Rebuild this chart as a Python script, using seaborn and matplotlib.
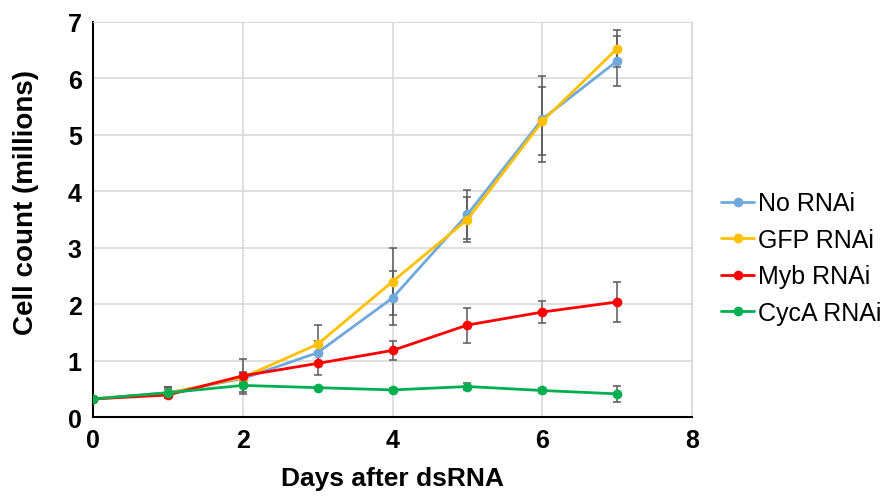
import pandas as pd
import seaborn as sns
import matplotlib.pyplot as plt

days = [0, 1, 2, 3, 4, 5, 6, 7]
series_names = ["No RNAi", "GFP RNAi", "Myb RNAi", "CycA RNAi"]

no_rnai = [0.32, 0.43, 0.68, 1.14, 2.11, 3.59, 5.28, 6.31]
no_rnai_err = [0.0, 0.10, 0.10, 0.20, 0.48, 0.44, 0.76, 0.44]
gfp_rnai = [0.32, 0.42, 0.70, 1.29, 2.40, 3.50, 5.24, 6.53]
gfp_rnai_err = [0.0, 0.08, 0.10, 0.34, 0.59, 0.40, 0.60, 0.33]
myb_rnai = [0.32, 0.39, 0.73, 0.95, 1.18, 1.63, 1.86, 2.04]
myb_rnai_err = [0.0, 0.06, 0.29, 0.20, 0.17, 0.31, 0.19, 0.35]
cyca_rnai = [0.32, 0.43, 0.56, 0.52, 0.48, 0.54, 0.47, 0.41]
cyca_rnai_err = [0.0, 0.10, 0.15, 0.02, 0.03, 0.07, 0.04, 0.14]

colors = ["#6FA8DC", "#FFC000", "#FF0000", "#00B050"]

vals = [no_rnai, gfp_rnai, myb_rnai, cyca_rnai]
errs = [no_rnai_err, gfp_rnai_err, myb_rnai_err, cyca_rnai_err]

rows = []
for name, v, e in zip(series_names, vals, errs):
    for d, y, s in zip(days, v, e):
        rows.append({"Day": d, "Count": y, "Err": s, "Series": name})
df = pd.DataFrame(rows)

sns.set_style("white")
plt.rcParams["font.family"] = ["Liberation Sans", "DejaVu Sans"]
plt.rcParams["text.color"] = "black"
plt.rcParams["axes.labelcolor"] = "black"
plt.rcParams["xtick.color"] = "black"
plt.rcParams["ytick.color"] = "black"

fig = plt.figure(figsize=(8.87, 5.02), dpi=100)
ax = fig.add_axes([0.1048, 0.1673, 0.6755, 0.7869])

# error bars first, drawn underneath the lines
for name in series_names:
    sub = df[df["Series"] == name]
    ax.errorbar(sub["Day"], sub["Count"], yerr=sub["Err"], fmt="none",
                ecolor="#595959", elinewidth=1.1, capsize=3, capthick=1.1, zorder=2)

sns.lineplot(data=df, x="Day", y="Count", hue="Series", hue_order=series_names,
             palette=colors, marker="o", markersize=7, markeredgewidth=0,
             linewidth=2, ax=ax, zorder=3)

ax.set_xlim(0, 8)
ax.set_ylim(0, 7)
ax.set_xticks([0, 2, 4, 6, 8])
ax.set_yticks(range(8))
ax.grid(True, color="#D9D9D9", linewidth=1.2)
ax.set_axisbelow(True)
for s in ["top", "right"]:
    ax.spines[s].set_color("#D9D9D9")
for s in ["left", "bottom"]:
    ax.spines[s].set_color("black")
    ax.spines[s].set_linewidth(1.5)

ax.tick_params(axis="both", length=0, labelsize=18, pad=8, colors="black")
for lbl in ax.get_xticklabels() + ax.get_yticklabels():
    lbl.set_fontweight("bold")

ax.set_xlabel("Days after dsRNA", fontsize=19, fontweight="bold", labelpad=10)
ax.set_ylabel("Cell count (millions)", fontsize=20, fontweight="bold")
ax.yaxis.set_label_coords(-0.09, 0.545)

handles, labels = ax.get_legend_handles_labels()
leg = ax.legend(handles, labels, loc="center left", bbox_to_anchor=(0.802, 0.484),
                bbox_transform=fig.transFigure, frameon=False, fontsize=18,
                handlelength=1.3, handletextpad=0.15, labelspacing=0.5, borderaxespad=0)
for t in leg.get_texts():
    t.set_color("black")

plt.savefig("out.png", dpi=100)
